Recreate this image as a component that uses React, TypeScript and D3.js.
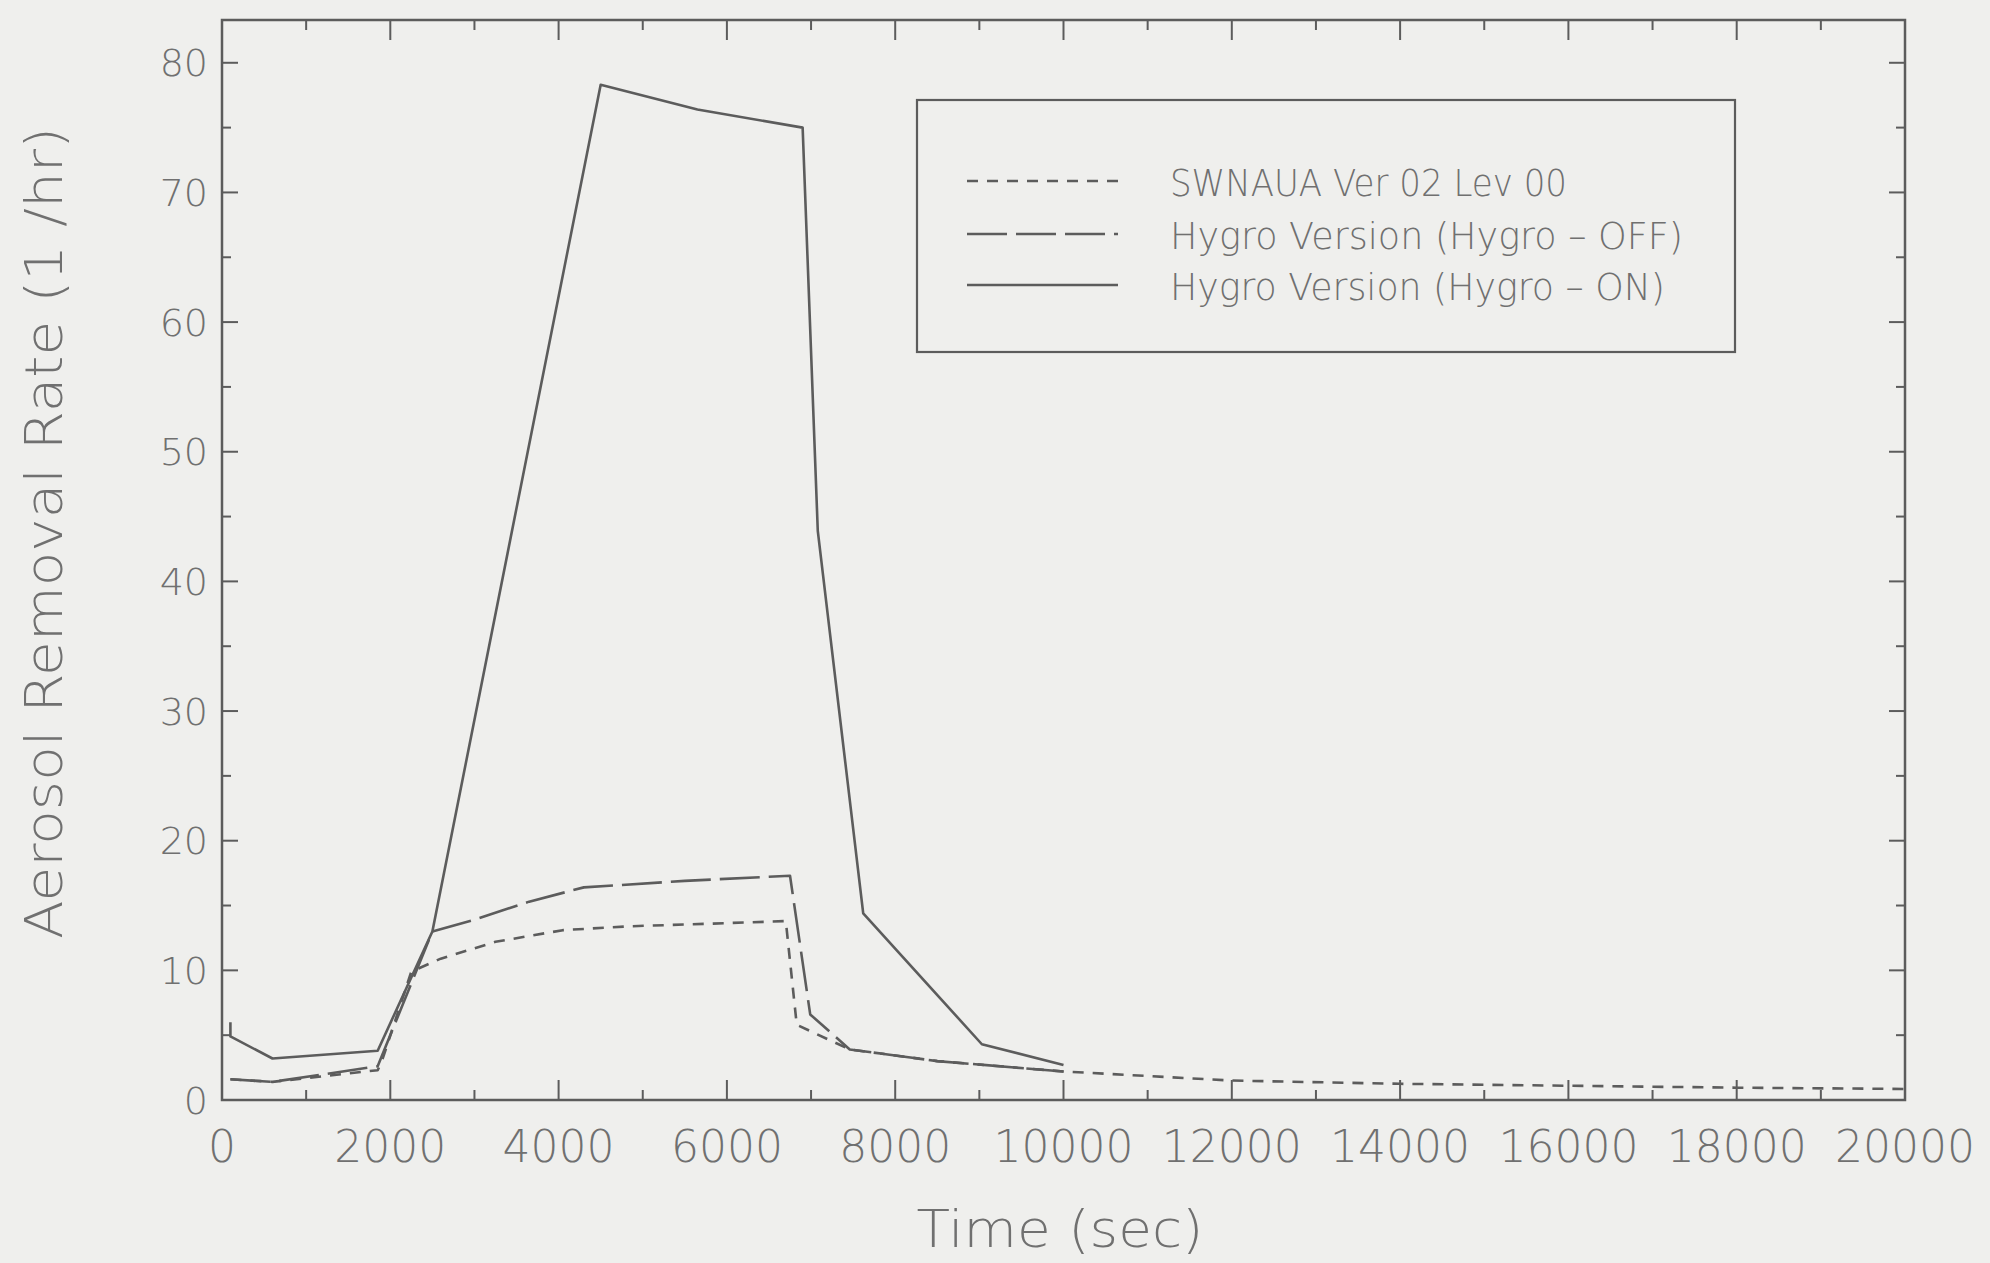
import React, { useEffect, useRef } from "react";
import * as d3 from "d3";

// Hygro Version (Hygro - ON), solid
const timeOn = [100, 100, 600, 1850, 2500, 4500, 5650, 6900, 7080, 7620, 9030, 10000];
const rateOn = [6.0, 4.9, 3.2, 3.8, 13.0, 78.3, 76.4, 75.0, 43.9, 14.4, 4.3, 2.7];

// Hygro Version (Hygro - OFF), long dash
const timeOff = [100, 600, 1850, 2500, 3000, 3650, 4300, 5500, 6750, 6990, 7460, 8500, 10000];
const rateOff = [1.6, 1.4, 2.6, 13.0, 13.9, 15.3, 16.4, 16.9, 17.3, 6.6, 3.9, 3.0, 2.2];

// SWNAUA Ver 02 Lev 00, short dash
const timeSw = [100, 600, 1850, 1900, 2250, 2600, 3250, 4050, 4850, 5800, 6700, 6830, 7460, 8500, 10000, 12000, 14000, 16000, 18000, 20000];
const rateSw = [1.6, 1.4, 2.3, 3.0, 9.9, 10.9, 12.2, 13.1, 13.4, 13.6, 13.8, 5.8, 3.9, 3.0, 2.2, 1.5, 1.25, 1.1, 0.95, 0.85];

const xTicks = [0, 2000, 4000, 6000, 8000, 10000, 12000, 14000, 16000, 18000, 20000];
const yTicks = [0, 10, 20, 30, 40, 50, 60, 70, 80];

const legendLabels = ["SWNAUA Ver 02 Lev 00", "Hygro Version (Hygro \u2013 OFF)", "Hygro Version (Hygro \u2013 ON)"];
const legendDash = ["11,9", "40,9", null];
const legendWidths = [397, 513, 495];

const W = 1990, H = 1263;
const left = 222, right = 1905, top = 20, bottom = 1100;
const lineColor = "#5c5c5c";
const textColor = "#707070";
const font = "'DejaVu Sans', sans-serif";

export default function App() {
  const ref = useRef(null);

  useEffect(() => {
    const svg = d3.select(ref.current);
    svg.selectAll("*").remove();

    svg.append("rect").attr("width", W).attr("height", H).attr("fill", "#efefed");

    const x = d3.scaleLinear().domain([0, 20000]).range([left, right]);
    const y = d3.scaleLinear().domain([0, 83.3]).range([bottom, top]);

    const g = svg.append("g");

    // frame
    g.append("rect")
      .attr("x", left).attr("y", top)
      .attr("width", right - left).attr("height", bottom - top)
      .attr("fill", "none").attr("stroke", lineColor).attr("stroke-width", 2.5);

    // x ticks (inward, bottom and top)
    const xAll = d3.range(0, 20001, 1000);
    const xLen = (v) => (v % 2000 === 0 ? 20 : 10);
    g.selectAll(".xt_b").data(xAll).join("line").attr("class", "xt_b")
      .attr("x1", (d) => x(d)).attr("x2", (d) => x(d))
      .attr("y1", bottom).attr("y2", (d) => bottom - xLen(d))
      .attr("stroke", lineColor).attr("stroke-width", 2);
    g.selectAll(".xt_t").data(xAll).join("line").attr("class", "xt_t")
      .attr("x1", (d) => x(d)).attr("x2", (d) => x(d))
      .attr("y1", top).attr("y2", (d) => top + xLen(d))
      .attr("stroke", lineColor).attr("stroke-width", 2);

    // y ticks (inward, left and right)
    const yAll = d3.range(0, 81, 5);
    const yLen = (v) => (v % 10 === 0 ? 16 : 9);
    g.selectAll(".yt_l").data(yAll).join("line").attr("class", "yt_l")
      .attr("x1", left).attr("x2", (d) => left + yLen(d))
      .attr("y1", (d) => y(d)).attr("y2", (d) => y(d))
      .attr("stroke", lineColor).attr("stroke-width", 2);
    g.selectAll(".yt_r").data(yAll).join("line").attr("class", "yt_r")
      .attr("x1", right).attr("x2", (d) => right - yLen(d))
      .attr("y1", (d) => y(d)).attr("y2", (d) => y(d))
      .attr("stroke", lineColor).attr("stroke-width", 2);

    // tick labels
    g.selectAll(".xl").data(xTicks).join("text").attr("class", "xl")
      .attr("x", (d) => x(d)).attr("y", 1162)
      .attr("text-anchor", "middle")
      .attr("font-family", font).attr("font-weight", 200)
      .attr("font-size", 44).attr("fill", textColor)
      .text((d) => String(d));

    g.selectAll(".yl").data(yTicks).join("text").attr("class", "yl")
      .attr("x", 208).attr("y", (d) => y(d)).attr("dy", "0.36em")
      .attr("text-anchor", "end")
      .attr("font-family", font).attr("font-weight", 200)
      .attr("font-size", 38).attr("fill", textColor)
      .text((d) => String(d));

    // axis titles
    svg.append("text")
      .attr("transform", "translate(44, 533) rotate(-90)")
      .attr("text-anchor", "middle").attr("dy", "0.35em")
      .attr("font-family", font).attr("font-weight", 200)
      .attr("font-size", 52).attr("fill", textColor)
      .attr("textLength", 812).attr("lengthAdjust", "spacingAndGlyphs")
      .text("Aerosol Removal Rate (1 /hr)");

    svg.append("text")
      .attr("x", 1060).attr("y", 1247)
      .attr("text-anchor", "middle")
      .attr("font-family", font).attr("font-weight", 200)
      .attr("font-size", 52).attr("fill", textColor)
      .attr("textLength", 287).attr("lengthAdjust", "spacingAndGlyphs")
      .text("Time (sec)");

    // series
    const line = d3.line().x((d) => x(d[0])).y((d) => y(d[1]));
    const series = [
      { t: timeSw, v: rateSw, dash: "11,9" },
      { t: timeOff, v: rateOff, dash: "40,9" },
      { t: timeOn, v: rateOn, dash: null },
    ];
    g.selectAll(".series").data(series).join("path").attr("class", "series")
      .attr("d", (s) => line(s.t.map((t, i) => [t, s.v[i]])))
      .attr("fill", "none")
      .attr("stroke", lineColor)
      .attr("stroke-width", 2.6)
      .attr("stroke-linejoin", "round")
      .attr("stroke-dasharray", (s) => s.dash);

    // legend
    const lg = svg.append("g");
    lg.append("rect")
      .attr("x", 917).attr("y", 100).attr("width", 818).attr("height", 252)
      .attr("fill", "none").attr("stroke", lineColor).attr("stroke-width", 2.2);
    const rowsY = [181, 234, 285];
    lg.selectAll(".lgl").data(legendLabels).join("line").attr("class", "lgl")
      .attr("x1", 967).attr("x2", 1118)
      .attr("y1", (d, i) => rowsY[i]).attr("y2", (d, i) => rowsY[i])
      .attr("stroke", lineColor).attr("stroke-width", 2.6)
      .attr("stroke-dasharray", (d, i) => legendDash[i]);
    lg.selectAll(".lgt").data(legendLabels).join("text").attr("class", "lgt")
      .attr("x", 1170).attr("y", (d, i) => rowsY[i] + 2).attr("dy", "0.35em")
      .attr("font-family", font).attr("font-weight", 200)
      .attr("font-size", 38).attr("fill", textColor)
      .attr("textLength", (d, i) => legendWidths[i]).attr("lengthAdjust", "spacingAndGlyphs")
      .text((d) => d);
  }, []);

  return (
    <svg ref={ref} width={W} height={H} style={{ position: "absolute", left: 0, top: 0 }} />
  );
}
